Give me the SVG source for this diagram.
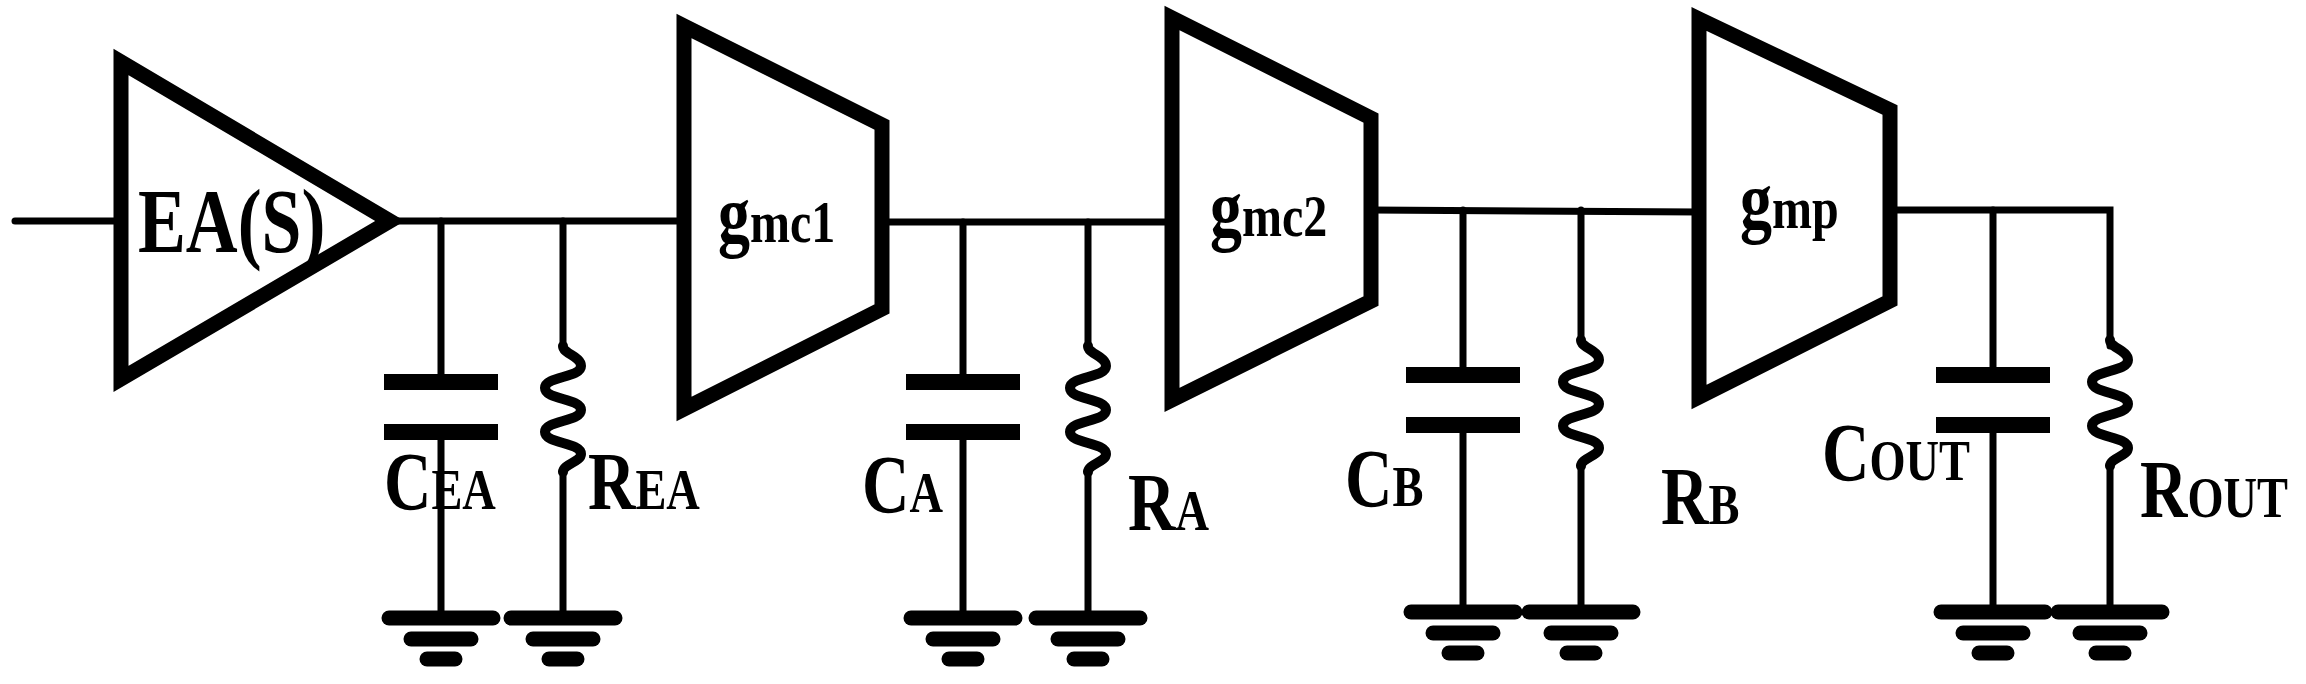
<svg xmlns="http://www.w3.org/2000/svg" width="2306" height="684" viewBox="0 0 2306 684">
<style>
.w{stroke:#000;stroke-width:7;fill:none;stroke-linecap:round}
.blk{stroke:#000;stroke-width:15;fill:none;stroke-linejoin:miter;stroke-linecap:round}
.plate{stroke:#000;stroke-width:16;fill:none}
.gnd{stroke:#000;stroke-width:15;stroke-linecap:round}
.res{stroke:#000;stroke-width:10;fill:none;stroke-linecap:round;stroke-linejoin:round}
text{font-family:"Liberation Serif",serif;font-weight:bold;fill:#000}
.lb{font-size:82px}
.sb{font-size:58px}
</style>
<defs>
<g id="gnd">
<line class="gnd" x1="-52" y1="0" x2="52" y2="0"/>
<line class="gnd" x1="-30" y1="21" x2="30" y2="21"/>
<line class="gnd" x1="-14" y1="41" x2="14" y2="41"/>
</g>
<g id="cap">
<line class="plate" x1="-57" y1="0" x2="57" y2="0"/>
<line class="plate" x1="-57" y1="50" x2="57" y2="50"/>
</g>
<path id="res" class="res" d="M0,0 C0,8 18,10 18,20 C18,32 -18,30 -18,42 C-18,54 18,52 18,64 C18,76 -18,74 -18,86 C-18,98 18,96 18,108 C18,116 0,118 0,126"/>
</defs>
<g id="EA">
<polygon class="blk" points="121,62 121,379 390,221"/>
<text transform="translate(138,252) scale(0.78,1)" font-size="92">EA(S)</text>
</g>
<g id="gmc1">
<polygon class="blk" points="684,26 882,125 882,309 684,409"/>
<text transform="translate(718,242) scale(0.8,1)" font-size="80">g<tspan font-size="60">mc1</tspan></text>
</g>
<g id="gmc2">
<polygon class="blk" points="1172,18 1371,118 1371,301 1172,400"/>
<text transform="translate(1210,236) scale(0.8,1)" font-size="80">g<tspan font-size="60">mc2</tspan></text>
</g>
<g id="gmp">
<polygon class="blk" points="1699,19 1890,110 1890,301 1699,397"/>
<text transform="translate(1740,228) scale(0.8,1)" font-size="80">g<tspan font-size="60">mp</tspan></text>
</g>
<g id="connectors">
<line class="w" x1="15" y1="221" x2="121" y2="221"/>
<line class="w" x1="390" y1="221" x2="684" y2="221"/>
<line class="w" x1="882" y1="222" x2="1172" y2="222"/>
<line class="w" x1="1371" y1="210" x2="1699" y2="212"/>
<polyline class="w" points="1890,210 2110,210 2110,346"/>
<line class="w" x1="441" y1="221" x2="441" y2="382"/><line class="w" x1="441" y1="434" x2="441" y2="618"/>
<line class="w" x1="563" y1="221" x2="563" y2="346"/><line class="w" x1="563" y1="472" x2="563" y2="618"/>
<line class="w" x1="963" y1="222" x2="963" y2="382"/><line class="w" x1="963" y1="434" x2="963" y2="618"/>
<line class="w" x1="1088" y1="222" x2="1088" y2="346"/><line class="w" x1="1088" y1="472" x2="1088" y2="618"/>
<line class="w" x1="1463" y1="210" x2="1463" y2="375"/><line class="w" x1="1463" y1="427" x2="1463" y2="612"/>
<line class="w" x1="1581" y1="210" x2="1581" y2="340"/><line class="w" x1="1581" y1="466" x2="1581" y2="612"/>
<line class="w" x1="1993" y1="210" x2="1993" y2="375"/><line class="w" x1="1993" y1="427" x2="1993" y2="612"/>
<line class="w" x1="2110" y1="466" x2="2110" y2="612"/>
</g>
<g id="C_EA"><use href="#cap" x="441" y="382"/><use href="#gnd" x="441" y="618"/><text class="lb" transform="translate(384,509) scale(0.8,1)">C<tspan class="sb">EA</tspan></text></g>
<g id="R_EA"><use href="#res" x="563" y="346"/><use href="#gnd" x="563" y="618"/><text class="lb" transform="translate(588,509) scale(0.8,1)">R<tspan class="sb">EA</tspan></text></g>
<g id="C_A"><use href="#cap" x="963" y="382"/><use href="#gnd" x="963" y="618"/><text class="lb" transform="translate(862,512) scale(0.8,1)">C<tspan class="sb">A</tspan></text></g>
<g id="R_A"><use href="#res" x="1088" y="346"/><use href="#gnd" x="1088" y="618"/><text class="lb" transform="translate(1128,530) scale(0.8,1)">R<tspan class="sb">A</tspan></text></g>
<g id="C_B"><use href="#cap" x="1463" y="375"/><use href="#gnd" x="1463" y="612"/><text class="lb" transform="translate(1345,506) scale(0.8,1)">C<tspan class="sb">B</tspan></text></g>
<g id="R_B"><use href="#res" x="1581" y="340"/><use href="#gnd" x="1581" y="612"/><text class="lb" transform="translate(1661,524) scale(0.8,1)">R<tspan class="sb">B</tspan></text></g>
<g id="C_OUT"><use href="#cap" x="1993" y="375"/><use href="#gnd" x="1993" y="612"/><text class="lb" transform="translate(1822,480) scale(0.8,1)">C<tspan class="sb">OUT</tspan></text></g>
<g id="R_OUT"><use href="#res" x="2110" y="340"/><use href="#gnd" x="2110" y="612"/><text class="lb" transform="translate(2140,517) scale(0.8,1)">R<tspan class="sb">OUT</tspan></text></g>
</svg>
